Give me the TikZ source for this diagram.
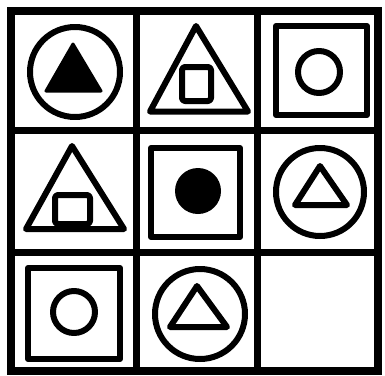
\documentclass[tikz,border=0pt]{standalone}
\usepackage{tikz}

\begin{document}
\begin{tikzpicture}[
    x=1pt, y=-1pt,
    frame/.style={draw, line width=8pt},
    grid/.style={draw, line width=7pt},
    fig/.style={draw, line width=6pt, line join=round},
    solid/.style={fill=black, draw, line width=3pt, line join=round}
]
\useasboundingbox (0,0) rectangle (385,375);
% board
\draw[frame] (11,11) rectangle (378,371);
\draw[grid] (136,11) -- (136,371);
\draw[grid] (257.5,11) -- (257.5,371);
\draw[grid] (11,130) -- (378,130);
\draw[grid] (11,252.5) -- (378,252.5);
% row 1
\draw[fig] (75,72) circle (45);
\draw[solid] (73,44) -- (101,91) -- (46,91) -- cycle;
\draw[fig] (196,26) -- (248,111.5) -- (150,111.5) -- cycle;
\draw[fig, rounded corners=3pt] (182,67) rectangle (211,101);
\draw[fig] (276,26) rectangle (367,115);
\draw[fig] (319,72) circle (21);
% row 2
\draw[fig] (72,146) -- (124,229) -- (26,229) -- cycle;
\draw[fig, rounded corners=3pt] (55,195) rectangle (90,224);
\draw[fig] (151,148) rectangle (240,237);
\fill (198,191) circle (23);
\draw[fig] (320,192) circle (44);
\draw[fig] (320,166) -- (347,205) -- (295,205) -- cycle;
% row 3
\draw[fig] (28,268) rectangle (120,359);
\draw[fig] (74,312) circle (21);
\draw[fig] (200,314) circle (45);
\draw[fig] (197,286) -- (227,327) -- (170,327) -- cycle;
\end{tikzpicture}
\end{document}
